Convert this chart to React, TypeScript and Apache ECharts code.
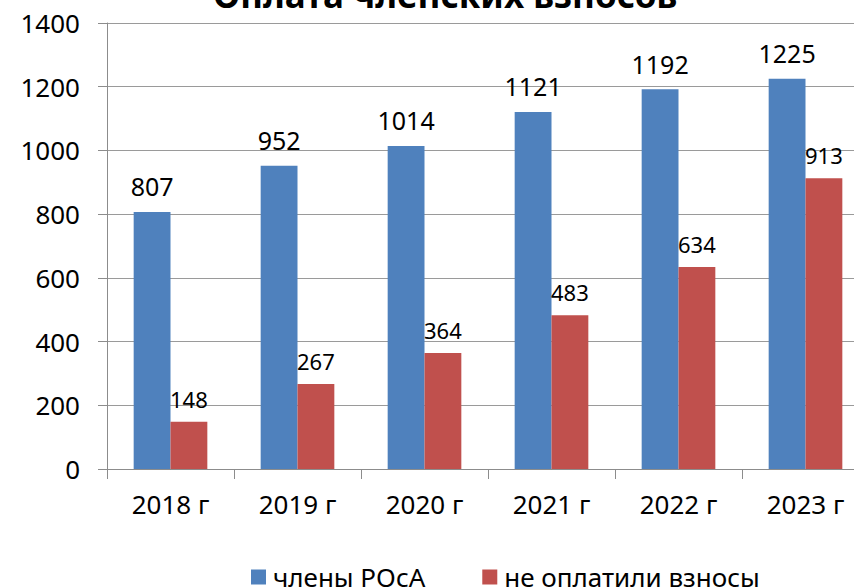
import React, { useEffect, useRef } from "react";
import * as echarts from "echarts";

const categories = ["2018 г", "2019 г", "2020 г", "2021 г", "2022 г", "2023 г"];
const members = [807, 952, 1014, 1121, 1192, 1225];
const unpaid = [148, 267, 364, 483, 634, 913];
const seriesNames = ["члены РОсА", "не оплатили взносы"];
const titleText = "Оплата членских взносов";

const FONT = "'Noto Sans', sans-serif";

export default function App() {
  const ref = useRef<HTMLDivElement>(null);
  useEffect(() => {
    if (!ref.current) return;
    const chart = echarts.init(ref.current, undefined, { renderer: "svg" });
    chart.setOption({
      animation: false,
      backgroundColor: "#ffffff",
      title: {
        text: titleText,
        left: 213,
        top: -23,
        padding: 0,
        textStyle: { fontFamily: FONT, fontSize: 35, fontWeight: "bold", color: "#000" },
      },
      legend: {
        bottom: -2,
        left: 251,
        padding: 0,
        itemWidth: 15,
        itemHeight: 15,
        itemGap: 57,
        icon: "rect",
        textStyle: { fontFamily: FONT, fontSize: 26, color: "#000", padding: [0, 0, 0, 2] },
        data: seriesNames,
      },
      grid: {
        left: 107,
        right: -15,
        top: 23,
        bottom: 119,
        containLabel: false,
        outerBoundsMode: "none",
      },
      xAxis: {
        type: "category",
        data: categories,
        axisLine: { lineStyle: { color: "#8c8c8c", width: 1 } },
        axisTick: { show: true, length: 10, alignWithLabel: false, lineStyle: { color: "#8c8c8c" } },
        axisLabel: { fontFamily: FONT, fontSize: 26, color: "#000", margin: 22 },
      },
      yAxis: {
        type: "value",
        min: 0,
        max: 1400,
        interval: 200,
        axisLine: { show: true, lineStyle: { color: "#8c8c8c", width: 1 } },
        axisTick: { show: true, length: 9, lineStyle: { color: "#8c8c8c" } },
        splitLine: { lineStyle: { color: "#9a9a9a", width: 1 } },
        axisLabel: {
          fontFamily: FONT,
          fontSize: 26,
          color: "#000",
          margin: 27,
          formatter: (v: number) => String(v),
        },
      },
      series: [
        {
          name: seriesNames[0],
          type: "bar",
          data: members,
          barGap: "0%",
          barCategoryGap: "42%",
          itemStyle: { color: "#4F81BD" },
          label: {
            show: true,
            position: "top",
            distance: 13,
            fontFamily: FONT,
            fontSize: 25,
            color: "#000",
          },
        },
        {
          name: seriesNames[1],
          type: "bar",
          data: unpaid,
          itemStyle: { color: "#C0504D" },
          label: {
            show: true,
            position: "top",
            distance: 12,
            fontFamily: FONT,
            fontSize: 22,
            color: "#000",
          },
        },
      ],
    });
    return () => chart.dispose();
  }, []);
  return (
    <div
      ref={ref}
      style={{ position: "fixed", left: 0, top: 0, width: 854, height: 588, overflow: "hidden" }}
    />
  );
}
